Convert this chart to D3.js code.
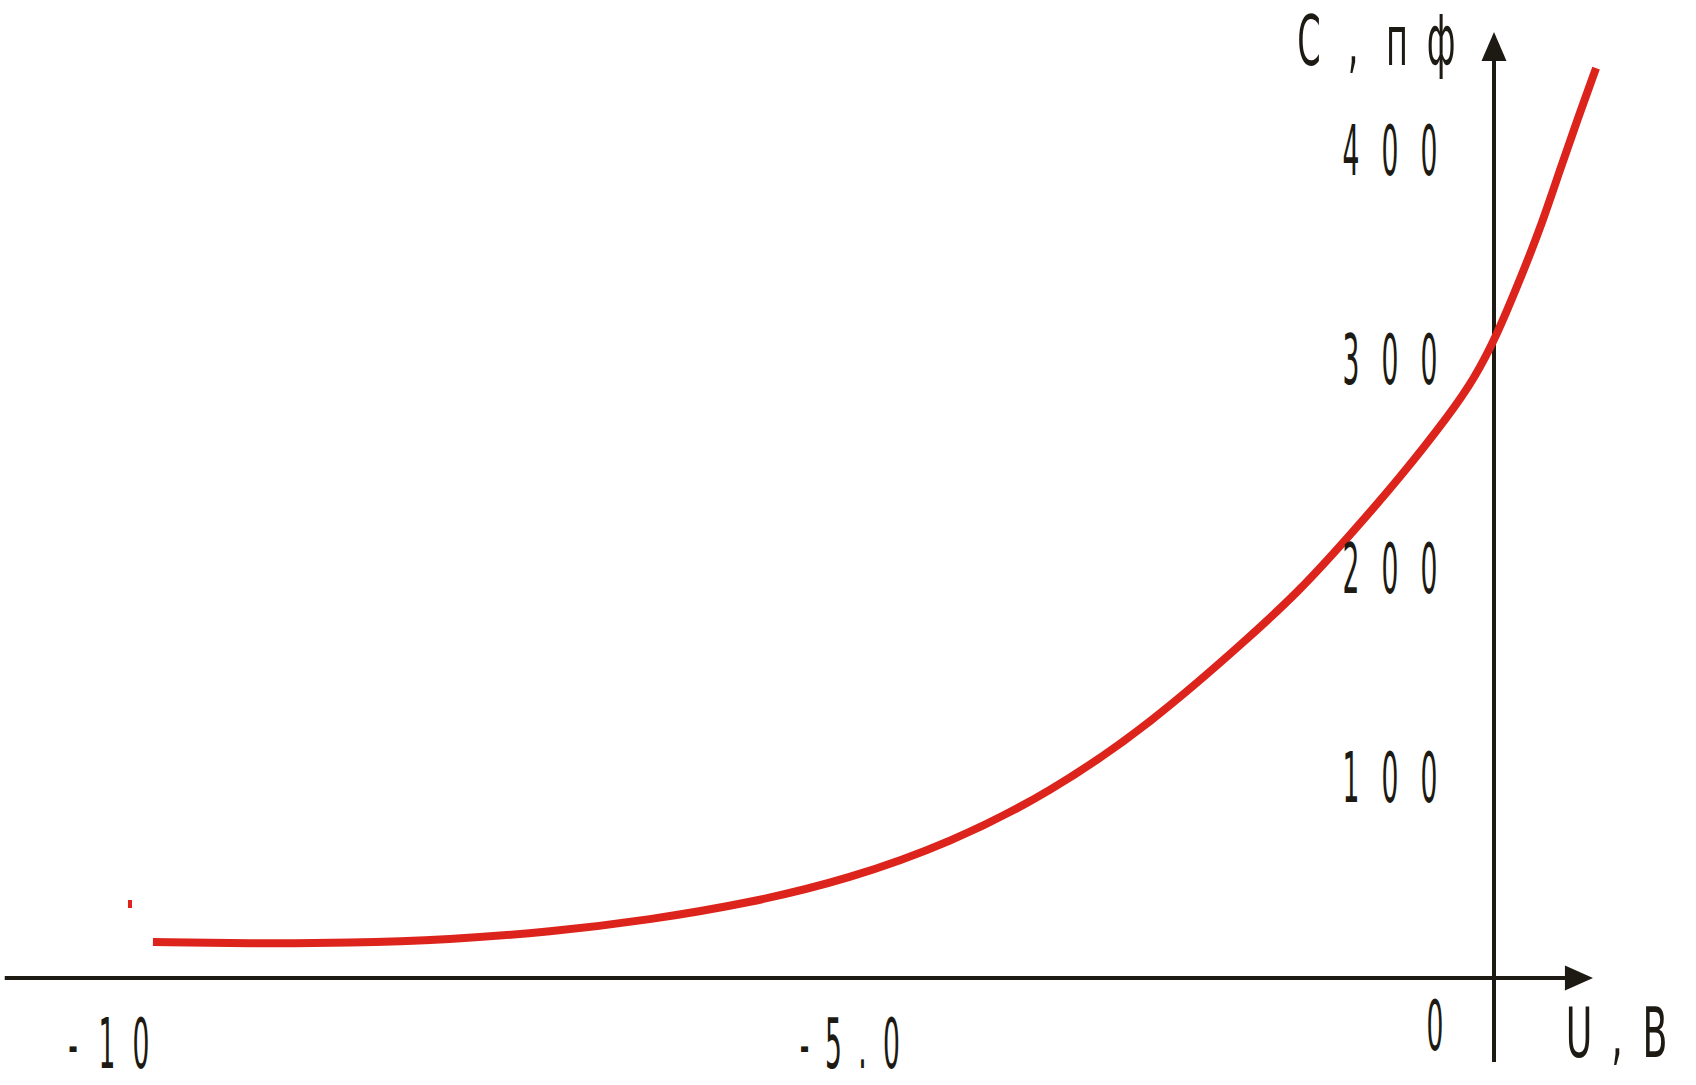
<!DOCTYPE html>
<html>
<head>
<meta charset="utf-8">
<script src="https://cdn.jsdelivr.net/npm/d3@7"></script>
<style>
  body { margin: 0; background: #fff; }
  svg { display: block; }
</style>
</head>
<body>
<script>
// C-V curve: U in volts, C in pF
const VOLTAGE = [-9.69, -9.04, -8.36, -7.69, -7.01, -6.34, -5.66, -4.99, -4.21, -3.44,
                 -2.66, -1.89, -1.50, -1.12, -0.73, -0.34, -0.15, 0.02, 0.20, 0.36, 0.51, 0.65, 0.79];
const CAPACITANCE = [17.2, 16.5, 16.7, 18.4, 22.0, 27.8, 35.9, 47.4, 64.6, 88.5,
                     121.5, 163.2, 185.6, 211.5, 239.2, 269.9, 287.1, 307.2, 334.0, 358.9, 386.6, 411.5, 435.4];

// stray point left of the curve start
const STRAY_U = [-9.845];
const STRAY_C = [35.4];

const Y_TICKS = [100, 200, 300, 400];
const X_TICKS = [-10, -5];
const X_TICK_LABELS = ['-10', '-5.0'];

const WIDTH = 1696;
const HEIGHT = 1085;
const INK = '#1c1a12';
const RED = '#dc241c';

document.addEventListener('DOMContentLoaded', () => {
  const svg = d3.select('body').append('svg')
                .attr('width', WIDTH)
                .attr('height', HEIGHT);

  // hand drawn axis, so the x scale is piecewise
  const x = d3.scaleLinear().domain([-10, -5, 0]).range([107, 848, 1494]);
  const y = d3.scaleLinear().domain([0, 400]).range([978, 142]);

  const x0 = x(0), y0 = y(0);
  const xLeft = x(-10.69), xTip = x(0.766);
  const yBottom = y(-40.2), yTip = y(452.6);

  // axes
  svg.append('line')
     .attr('x1', xLeft).attr('x2', xTip - 26)
     .attr('y1', y0).attr('y2', y0)
     .attr('stroke', INK).attr('stroke-width', 4);
  svg.append('path')
     .attr('d', `M${xTip},${y0} L${xTip - 28},${y0 - 12.5} L${xTip - 28},${y0 + 12.5} Z`)
     .attr('fill', INK);

  svg.append('line')
     .attr('x1', x0).attr('x2', x0)
     .attr('y1', yBottom).attr('y2', yTip + 27)
     .attr('stroke', INK).attr('stroke-width', 4);
  svg.append('path')
     .attr('d', `M${x0},${yTip} L${x0 - 12.5},${yTip + 29} L${x0 + 12.5},${yTip + 29} Z`)
     .attr('fill', INK);

  // curve
  const points = VOLTAGE.map((u, i) => [u, CAPACITANCE[i]]);
  const line = d3.line()
                 .x(d => x(d[0]))
                 .y(d => y(d[1]))
                 .curve(d3.curveBasis);

  svg.append('path')
     .datum(points)
     .attr('d', line)
     .attr('fill', 'none')
     .attr('stroke', RED)
     .attr('stroke-width', 8);

  svg.selectAll('rect.stray')
     .data(STRAY_U.map((u, i) => [u, STRAY_C[i]]))
     .enter().append('rect')
     .attr('class', 'stray')
     .attr('x', d => x(d[0]) - 2)
     .attr('y', d => y(d[1]) - 4)
     .attr('width', 4)
     .attr('height', 8)
     .attr('fill', RED);

  // condensed, widely spaced lettering
  function spaced(str, cx, baseline, pitch, sx) {
    const chars = str.split('');
    const start = cx - (chars.length - 1) * pitch / 2;
    const g = svg.append('g');
    chars.forEach((c, i) => {
      g.append('text')
       .attr('transform', `translate(${start + i * pitch},${baseline}) scale(${sx},1)`)
       .attr('text-anchor', 'middle')
       .attr('font-family', 'DejaVu Sans, sans-serif')
       .attr('font-size', 70)
       .attr('fill', INK)
       .text(c);
    });
  }

  Y_TICKS.forEach(v => spaced(String(v), x0 - 104, y(v) + 33, 39, 0.38));
  X_TICKS.forEach((v, i) => spaced(X_TICK_LABELS[i], x(v), y0 + 90, X_TICK_LABELS[i].length > 3 ? 29 : 34, 0.38));
  spaced('0', x0 - 59, y0 + 72, 0, 0.38);

  spaced('C,пф', x0 - 119, 65, 44, 0.48);
  spaced('U,B', x0 + 123, y0 + 79, 38, 0.52);
});
</script>
</body>
</html>
